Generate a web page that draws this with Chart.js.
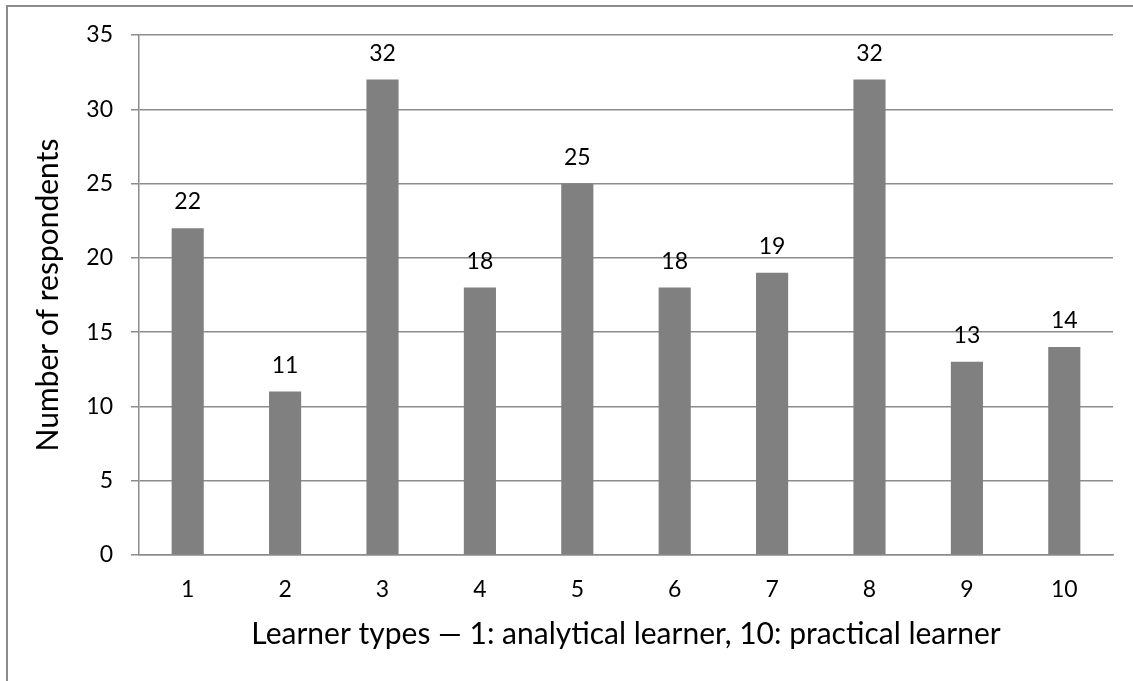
<!DOCTYPE html>
<html>
<head>
<meta charset="utf-8">
<script src="https://cdn.jsdelivr.net/npm/chart.js@4.4.1/dist/chart.umd.min.js"></script>
<style>
  html, body { margin: 0; padding: 0; background: #ffffff; }
  #wrap { position: relative; width: 1133px; height: 681px; overflow: hidden; }
  #frame { position: absolute; left: 6px; top: 5px; width: 1200px; height: 800px;
           border-top: 2px solid #8c8c8c; border-left: 2px solid #8c8c8c; box-sizing: border-box; }
  canvas { position: absolute; left: 0; top: 0; }
</style>
</head>
<body>
<div id="wrap">
  <div id="frame"></div>
  <canvas id="chart" width="1133" height="681"></canvas>
</div>
<script>
// Learner type categories (1 = analytical, 10 = practical)
const learnerTypes = ['1', '2', '3', '4', '5', '6', '7', '8', '9', '10'];
// Number of respondents per learner type
const respondents = [22, 11, 32, 18, 25, 18, 19, 32, 13, 14];
// Value axis ticks
const yTicks = [0, 5, 10, 15, 20, 25, 30, 35];

const FONT = 'Lato, "Liberation Sans", sans-serif';
const GRID = '#8c8c8c';
const TICK_SIZE = 23;
const TITLE_SIZE = 30;

// Writes each bar's value above its top edge
const valueLabels = {
  id: 'valueLabels',
  afterDatasetsDraw(chart) {
    const ctx = chart.ctx;
    const meta = chart.getDatasetMeta(0);
    ctx.save();
    ctx.font = TICK_SIZE + 'px ' + FONT;
    ctx.fillStyle = '#000000';
    ctx.textAlign = 'center';
    ctx.textBaseline = 'alphabetic';
    meta.data.forEach((bar, i) => {
      ctx.fillText(String(chart.data.datasets[0].data[i]), bar.x, bar.y - 19);
    });
    ctx.restore();
  }
};

new Chart(document.getElementById('chart'), {
  type: 'bar',
  data: {
    labels: learnerTypes,
    datasets: [{
      data: respondents,
      backgroundColor: '#808080',
      borderWidth: 0,
      categoryPercentage: 1.0,
      barPercentage: 0.33
    }]
  },
  options: {
    responsive: false,
    animation: false,
    layout: { padding: { left: 0, right: 20, top: 35, bottom: 0 } },
    plugins: {
      legend: { display: false },
      tooltip: { enabled: false }
    },
    scales: {
      x: {
        grid: { display: false, drawTicks: false },
        border: { display: true, color: GRID, width: 1.5 },
        ticks: { color: '#000000', font: { family: FONT, size: TICK_SIZE }, padding: 21, maxRotation: 0 },
        title: {
          display: true,
          text: 'Learner types — 1: analytical learner, 10: practical learner',
          color: '#000000',
          font: { family: FONT, size: TITLE_SIZE },
          padding: { top: 29, bottom: 29 }
        },
        afterFit(scale) { scale.height = 681 - 555; }
      },
      y: {
        min: 0,
        max: 35,
        afterBuildTicks(scale) { scale.ticks = yTicks.map(v => ({ value: v })); },
        grid: { color: GRID, lineWidth: 1.5, tickLength: 8, tickColor: GRID, drawTicks: true },
        border: { display: true, color: GRID, width: 1.5 },
        ticks: { color: '#000000', font: { family: FONT, size: TICK_SIZE }, padding: 18 },
        title: {
          display: true,
          text: 'Number of respondents',
          color: '#000000',
          font: { family: FONT, size: TITLE_SIZE },
          padding: { top: 30, bottom: 30 }
        },
        afterFit(scale) { scale.width = 139; }
      }
    }
  },
  plugins: [valueLabels]
});
</script>
</body>
</html>
